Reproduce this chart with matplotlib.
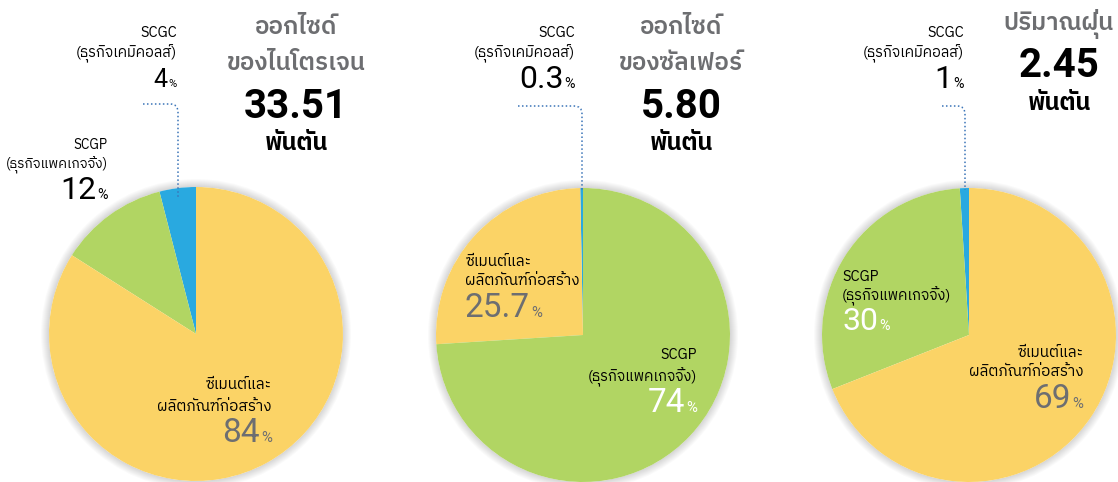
import numpy as np
import matplotlib
matplotlib.use("Agg")
import matplotlib.pyplot as plt
from matplotlib import font_manager
from matplotlib.ft2font import FT2Font
from matplotlib.path import Path
from matplotlib.patches import PathPatch, Circle

# shares (%) per category: SCGC, SCGP, cement & building materials
categories = ["SCGC", "SCGP", "ซีเมนต์และ\nผลิตภัณฑ์ก่อสร้าง"]
sub_names = ["(ธุรกิจเคมิคอลส์)", "(ธุรกิจแพคเกจจิ้ง)", ""]
nox_share = [4, 12, 84]
sox_share = [0.3, 74, 25.7]
dust_share = [1, 30, 69]
share_text = [["4", "12", "84"], ["0.3", "74", "25.7"], ["1", "30", "69"]]

titles = ["ออกไซด์\nของไนโตรเจน", "ออกไซด์\nของซัลเฟอร์", "ปริมาณฝุ่น"]
totals = ["33.51", "5.80", "2.45"]
unit = "พันตัน"

colors = ["#29a9e0", "#b1d563", "#fbd366"]
GRAY = "#6d6e71"
LEADER = "#3a74b8"
W, H = 1118, 482


def find_thai_font():
    found = []
    for f in font_manager.fontManager.ttflist:
        try:
            cmap = FT2Font(f.fname).get_charmap()
        except Exception:
            continue
        if 0x0E01 in cmap:
            found.append(f.name)
    found = sorted(set(found), key=lambda n: (("Sans" not in n), ("Looped" in n), n))
    return found[0] if found else "DejaVu Sans"


thai = find_thai_font()
plt.rcParams['font.family'] = [thai, 'Roboto', 'DejaVu Sans']
NUM_FONT = ['Roboto', 'DejaVu Sans']

fig = plt.figure(figsize=(W / 100, H / 100), dpi=100)
ax = fig.add_axes([0, 0, 1, 1])


def Y(y):
    # pixel row (top-down) -> data y
    return H - y


centers = [(196, 334), (583, 335), (969, 335)]
radius = 147
orders = [[0, 1, 2], [0, 2, 1], [0, 1, 2]]

for (cx, cy), shares, order in zip(centers, [nox_share, sox_share, dust_share], orders):
    # soft shadow
    for k in range(1, 9):
        ax.add_patch(Circle((cx, Y(cy)), radius + k, color="black", alpha=0.018, lw=0, zorder=1))
    ax.add_patch(Circle((cx, Y(cy)), radius, color="white", lw=0, zorder=1))
    ax.pie([shares[i] for i in order], colors=[colors[i] for i in order],
           startangle=90, counterclock=True, center=(cx, Y(cy)), radius=radius,
           frame=True, wedgeprops=dict(linewidth=0, zorder=2))

ax.set_xlim(0, W)
ax.set_ylim(0, H)
ax.set_aspect('auto')
ax.axis('off')

renderer = fig.canvas.get_renderer()


def pct_label(x, ybase, value, size, color, ha):
    num = ax.text(x, Y(ybase), value, fontsize=size, color=color, va='baseline',
                  ha='left', family=NUM_FONT, zorder=5)
    pct = ax.text(x, Y(ybase), "%", fontsize=size * 0.45, color=color, va='baseline',
                  ha='left', family=NUM_FONT, zorder=5)
    w_num = num.get_window_extent(renderer).width
    w_pct = pct.get_window_extent(renderer).width
    if ha == 'right':
        num.set_x(x - w_pct - 1)
        num.set_ha('right')
        pct.set_ha('right')
    else:
        pct.set_x(x + w_num + 1)


def name_label(x, y1, lines, ha, color="black", size=11, gap=19):
    for i, line in enumerate(lines):
        ax.text(x, Y(y1 + i * gap), line, fontsize=size, color=color, ha=ha,
                va='center', zorder=5)


def leader(x0, y, xv, y_end, rc=8):
    verts = [(x0, Y(y)), (xv - rc, Y(y)), (xv, Y(y)), (xv, Y(y + rc)), (xv, Y(y_end))]
    codes = [Path.MOVETO, Path.LINETO, Path.CURVE3, Path.CURVE3, Path.LINETO]
    ax.add_patch(PathPatch(Path(verts, codes), fill=False, edgecolor=LEADER,
                           lw=1.1, linestyle=(0, (1, 1.6)), zorder=6))


# titles and totals
title_x = [296, 681, 1059]
title_rows = [[27, 63], [27, 63], [24]]
total_y = [107, 107, 66]
unit_y = [143, 143, 104]
for i in range(3):
    for line, yy in zip(titles[i].split("\n"), title_rows[i]):
        ax.text(title_x[i], Y(yy), line, fontsize=17.5, color=GRAY, ha='center',
                va='center', fontweight='semibold')
    ax.text(title_x[i], Y(total_y[i]), totals[i], fontsize=29, color="black",
            ha='center', va='center', family=NUM_FONT, fontweight='bold')
    ax.text(title_x[i], Y(unit_y[i]), unit, fontsize=17, color="black",
            ha='center', va='center', fontweight='bold')

cement_lines = categories[2].split("\n")

# pie 1
name_label(177, 33, [categories[0], sub_names[0]], 'right', size=10.5, gap=21)
pct_label(177, 87, share_text[0][0], 18, "black", 'right')
leader(143, 104, 178, 197)
name_label(108, 145, [categories[1], sub_names[1]], 'right', size=9.8, gap=20)
pct_label(108, 199, share_text[0][1], 23, "black", 'right')
name_label(272, 385, cement_lines, 'right', size=11, gap=22)
pct_label(272, 442, share_text[0][2], 24, GRAY, 'right')

# pie 2
name_label(575, 33, [categories[0], sub_names[0]], 'right', size=10.5, gap=21)
pct_label(575, 88, share_text[1][0], 23, "black", 'right')
leader(518, 106, 582, 190)
name_label(465, 262, cement_lines, 'left', size=11, gap=19)
pct_label(465, 317, share_text[1][2], 24, GRAY, 'left')
name_label(697, 355, [categories[1], sub_names[1]], 'right', size=10.5, gap=22)
pct_label(697, 412, share_text[1][1], 24, "white", 'right')

# pie 3
name_label(964, 33, [categories[0], sub_names[0]], 'right', size=10.5, gap=21)
pct_label(964, 88, share_text[2][0], 23, "black", 'right')
leader(942, 106, 965, 190)
name_label(842, 277, [categories[1], sub_names[1]], 'left', size=10.5, gap=19)
pct_label(842, 330, share_text[2][1], 23, "white", 'left')
name_label(1083, 353, cement_lines, 'right', size=11, gap=19)
pct_label(1083, 408, share_text[2][2], 24, GRAY, 'right')

fig.savefig("out.png", dpi=100)
